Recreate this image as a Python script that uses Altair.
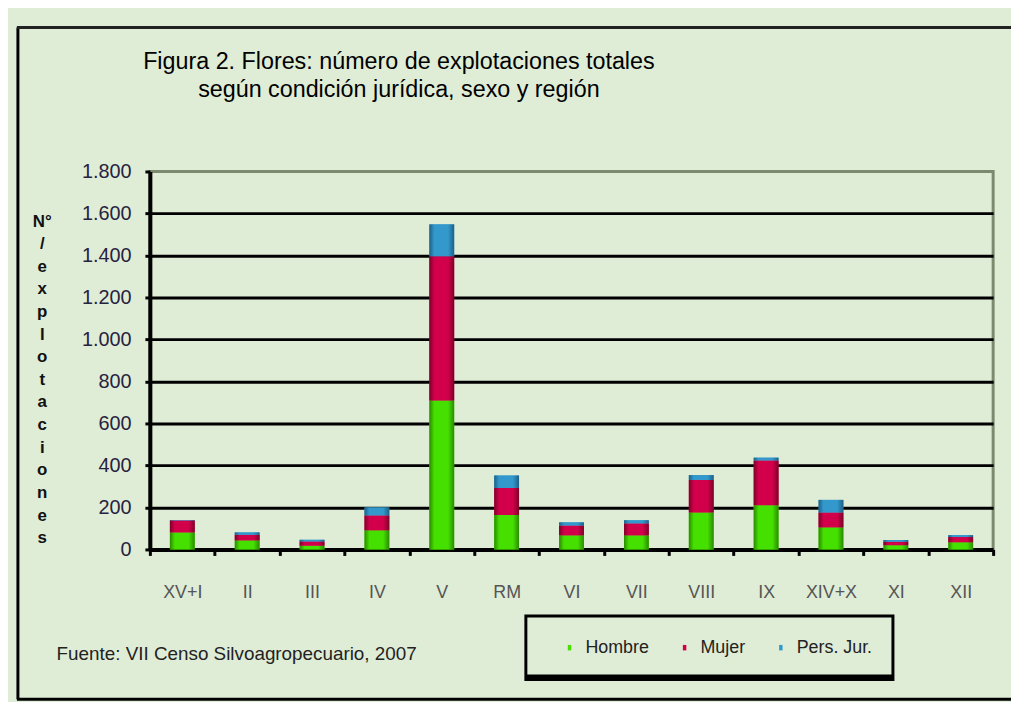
import altair as alt
import pandas as pd

# ---------------- data ----------------
regions = ["XV+I", "II", "III", "IV", "V", "RM", "VI", "VII", "VIII", "IX", "XIV+X", "XI", "XII"]
hombre = [81, 43, 18, 91, 709, 164, 67, 67, 176, 211, 105, 20, 34]
mujer = [57, 27, 20, 71, 687, 129, 47, 57, 155, 213, 71, 17, 25]
pers_jur = [2, 11, 8, 38, 152, 59, 15, 15, 23, 13, 60, 8, 9]
series = ["Hombre", "Mujer", "Pers. Jur."]
colors = ["#46e000", "#d2004a", "#3399cc"]
dark_colors = ["#2a8a00", "#7d0029", "#1d5f85"]
y_ticks = [0, 200, 400, 600, 800, 1000, 1200, 1400, 1600, 1800]
title_lines = ["Figura 2. Flores: número de explotaciones totales",
               "según condición jurídica, sexo y región"]
y_title = ["N°", "/", "e", "x", "p", "l", "o", "t", "a", "c", "i", "o", "n", "e", "s"]
source_note = "Fuente: VII Censo Silvoagropecuario, 2007"

FONT = "Liberation Sans, Arial, sans-serif"
BG = "#dfecd6"

rows = []
for i, r in enumerate(regions):
    for k, (s, vals) in enumerate(zip(series, [hombre, mujer, pers_jur])):
        rows.append({"region": r, "serie": s, "orden": k, "valor": vals[i]})
df = pd.DataFrame(rows)
one = pd.DataFrame({"k": [0]})

PW, PH = 850, 381
PAD_L, PAD_T = 143, 162
TOTAL_W, TOTAL_H = 1011, 694

x_enc = alt.X(
    "region:N", sort=regions,
    scale=alt.Scale(paddingInner=0, paddingOuter=0),
    axis=alt.Axis(title=None, labelAngle=0, labelFontSize=18, labelFont=FONT,
                  labelColor="#555555", labelPadding=28, tickBand="extent",
                  tickSize=6, tickWidth=3, tickColor="black",
                  domainColor="black", domainWidth=4, grid=False),
)
y_enc = alt.Y(
    "y0:Q",
    scale=alt.Scale(domain=[0, 1800], nice=False),
    axis=alt.Axis(values=y_ticks,
                  labelExpr="replace(format(datum.value, ','), ',', '.')",
                  labelFontSize=20, labelFont=FONT, labelColor="#26233f",
                  labelPadding=14, tickSize=5, tickWidth=3, tickColor="black",
                  domainColor="black", domainWidth=4,
                  grid=True, gridColor="black", gridWidth=3,
                  gridOpacity=alt.condition("datum.value >= 1800 || datum.value <= 0",
                                            alt.value(0), alt.value(1)),
                  title=y_title, titleAngle=0, titleAlign="center",
                  titleBaseline="top", titleX=-109, titleY=42,
                  titleFontSize=17, titleFontWeight="bold", titleFont=FONT,
                  titleLineHeight=22.8, titleColor="#111111"),
)

base = alt.Chart(df).transform_stack(
    stack="valor", groupby=["region"], as_=["y0", "y1"],
    sort=[alt.SortField("orden", order="ascending")],
)

flat = base.mark_bar(size=25).encode(
    x=x_enc, y=y_enc, y2="y1:Q",
    color=alt.Color("serie:N", sort=series,
                    scale=alt.Scale(domain=series, range=colors),
                    legend=alt.Legend(orient="none", legendX=414, legendY=471,
                                      direction="horizontal", title=None,
                                      symbolType="M-0.7,-1.1h1.4v2.2h-1.4z",
                                      symbolSize=25, symbolStrokeWidth=0,
                                      labelFontSize=18, labelFont=FONT,
                                      labelOffset=7, columnPadding=26,
                                      labelColor="#222222", padding=0)),
)

grad_layers = []
for s, c, d in zip(series, colors, dark_colors):
    g = alt.Gradient(gradient="linear", x1=0, x2=1, y1=0, y2=0,
                     stops=[alt.GradientStop(offset=0, color=d),
                            alt.GradientStop(offset=0.2, color=c),
                            alt.GradientStop(offset=0.75, color=c),
                            alt.GradientStop(offset=1, color=d)])
    grad_layers.append(
        base.transform_filter(alt.datum.serie == s)
        .mark_bar(size=25, color=g)
        .encode(x=x_enc, y=y_enc, y2="y1:Q")
    )

title = alt.Chart(one).mark_text(
    text=title_lines, font=FONT, fontSize=23.5, color="black",
    align="center", baseline="alphabetic", lineHeight=28,
).encode(x=alt.value(251), y=alt.value(-103))

note = alt.Chart(one).mark_text(
    text=source_note, font=FONT, fontSize=19, color="#222222",
    align="left", baseline="middle",
).encode(x=alt.value(-94), y=alt.value(486))

legend_box = alt.Chart(one).mark_rect(fill=None, stroke="black", strokeWidth=3).encode(
    x=alt.value(379), x2=alt.value(749), y=alt.value(448), y2=alt.value(512))
legend_shadow = alt.Chart(one).mark_rule(color="black", strokeWidth=6).encode(
    x=alt.value(379), x2=alt.value(750), y=alt.value(510))

border_left = alt.Chart(one).mark_rule(color="black", strokeWidth=3).encode(
    x=alt.value(-133), y=alt.value(-145), y2=alt.value(532))
border_top = alt.Chart(one).mark_rule(color="#222222", strokeWidth=3).encode(
    x=alt.value(-134), x2=alt.value(870), y=alt.value(-145))
border_bottom = alt.Chart(one).mark_rule(color="black", strokeWidth=3).encode(
    x=alt.value(-134), x2=alt.value(870), y=alt.value(532))

chart = alt.layer(
    flat, *grad_layers, title, note, legend_box, legend_shadow,
    border_left, border_top, border_bottom,
).properties(
    width=PW, height=PH,
    autosize=alt.AutoSizeParams(type="none"),
    padding={"left": PAD_L, "top": PAD_T,
             "right": TOTAL_W - PAD_L - PW, "bottom": TOTAL_H - PAD_T - PH},
    background=BG,
).configure_view(stroke="#7c8b70", strokeWidth=3)

chart.save("out.html", embed_options={"renderer": "svg", "actions": False})
